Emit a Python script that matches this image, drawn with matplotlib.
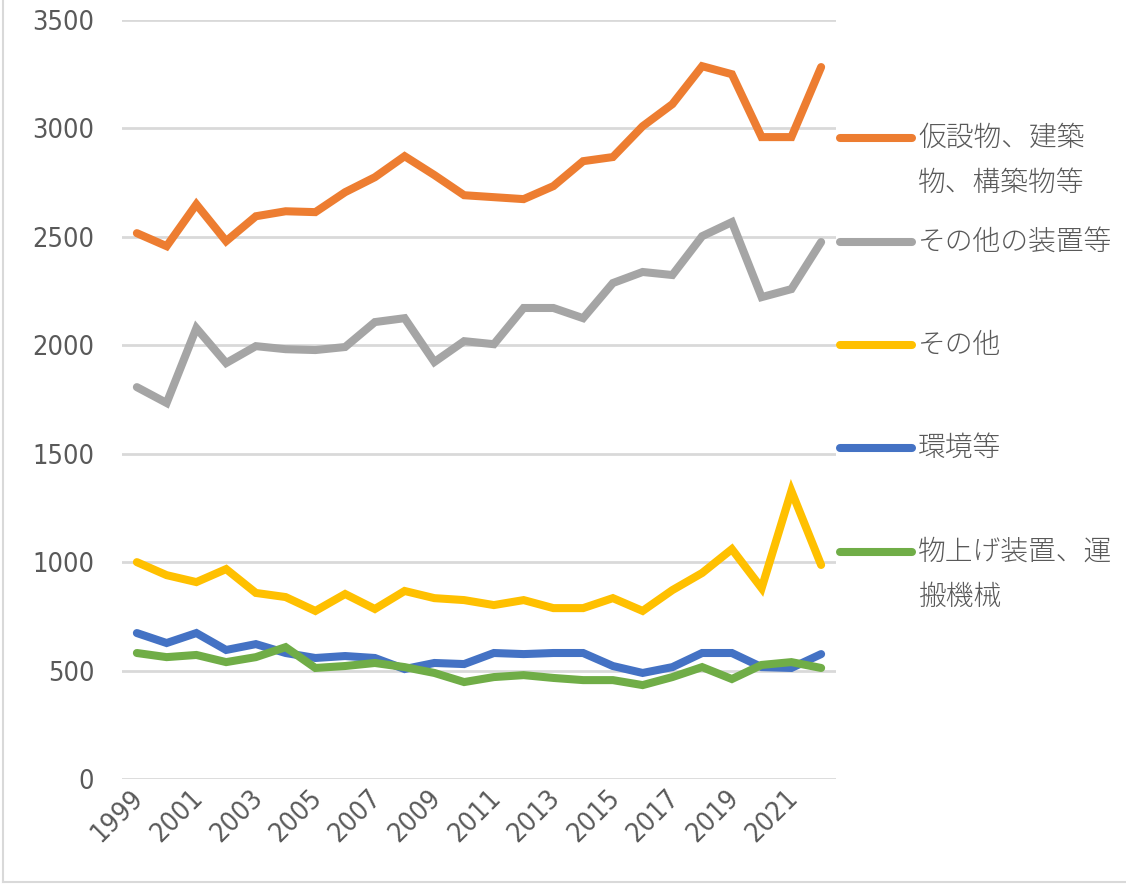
import matplotlib
matplotlib.use("Agg")
import matplotlib.pyplot as plt
from matplotlib import font_manager
from matplotlib.lines import Line2D
import matplotlib.transforms as mtransforms

years = list(range(1999, 2023))
series_names = ["仮設物、建築\n物、構築物等", "その他の装置等", "その他", "環境等", "物上げ装置、運\n搬機械"]
kasetsu = [2517, 2457, 2650, 2480, 2595, 2618, 2614, 2706, 2775, 2872, 2785, 2692,
           2683, 2674, 2734, 2849, 2868, 3010, 3112, 3287, 3250, 2960, 2960, 3283]
sonota_souchi = [1807, 1734, 2079, 1918, 1996, 1982, 1978, 1992, 2107, 2125, 1923, 2019,
                 2005, 2172, 2172, 2125, 2287, 2338, 2324, 2503, 2568, 2222, 2259, 2476]
sonota = [1000, 940, 908, 968, 858, 839, 775, 853, 784, 867, 834, 825,
          802, 825, 788, 788, 834, 775, 871, 950, 1060, 880, 1328, 987]
kankyo = [673, 627, 673, 595, 622, 581, 558, 567, 558, 507, 535, 530,
          581, 576, 581, 581, 521, 489, 516, 581, 581, 516, 512, 576]
monoage = [581, 562, 572, 539, 562, 608, 512, 521, 535, 516, 489, 447,
           470, 479, 466, 456, 456, 433, 470, 516, 461, 526, 539, 512]
y_ticks = [0, 500, 1000, 1500, 2000, 2500, 3000, 3500]
x_tick_years = years[::2]

colors = ["#ED7D31", "#A5A5A5", "#FFC000", "#4472C4", "#70AD47"]
values = [kasetsu, sonota_souchi, sonota, kankyo, monoage]

# narrow font for numbers if available
num_fp = None
for f in font_manager.fontManager.ttflist:
    if ("Narrow" in f.name or "Condensed" in f.fname) and not ("Bold" in f.fname or "Oblique" in f.fname or "Italic" in f.fname):
        num_fp = f.fname
        break

W, H = 1126, 885
fig = plt.figure(figsize=(W / 100, H / 100), dpi=100)
ax = fig.add_axes([122 / W, 1 - 779 / H, (836 - 122) / W, (779 - 20) / H])

for vals, c in zip(values, colors):
    ax.plot(years, vals, color=c, lw=5.8, solid_capstyle="round", solid_joinstyle="miter")

ax.set_xlim(1998.5, 2022.5)
ax.set_ylim(0, 3500)
ax.set_yticks(y_ticks)
ax.yaxis.grid(True, color="#D9D9D9", lw=2)
ax.set_axisbelow(True)
for s in ax.spines.values():
    s.set_visible(False)
ax.set_xticks(x_tick_years)
ax.tick_params(axis="both", length=0, colors="#595959")
ax.tick_params(axis="y", pad=20)
ax.tick_params(axis="x", pad=4)

if num_fp:
    fp = font_manager.FontProperties(fname=num_fp, size=19.5)
else:
    fp = font_manager.FontProperties(family="DejaVu Sans", size=15)
ax.set_yticklabels([str(v) for v in y_ticks], fontproperties=fp)
ax.set_xticklabels([str(v) for v in x_tick_years], fontproperties=fp, rotation=45,
                   ha="right", va="top")
offset = mtransforms.ScaledTranslation(12 / 100, 0, fig.dpi_scale_trans)
for lab in ax.get_xticklabels():
    lab.set_transform(lab.get_transform() + offset)

# legend (manual, Excel-style)
leg_y = [138, 242, 345, 448, 552]
for name, c, yy in zip(series_names, colors, leg_y):
    fy = 1 - yy / H
    fig.add_artist(Line2D([840 / W, 912 / W], [fy, fy], color=c, lw=5.8,
                          solid_capstyle="round", transform=fig.transFigure))
    for i, line in enumerate(name.split("\n")):
        fig.text(918 / W, 1 - (yy + 45 * i) / H, line, fontsize=20, color="#595959",
                 family=["Noto Sans CJK JP", "DejaVu Sans"], weight="light",
                 ha="left", va="center")

# chart frame
fig.add_artist(Line2D([3 / W, 3 / W], [3 / H, 1.0], color="#D9D9D9", lw=1.5, transform=fig.transFigure))
fig.add_artist(Line2D([3 / W, 1.0], [3 / H, 3 / H], color="#D9D9D9", lw=1.5, transform=fig.transFigure))

fig.savefig("out.png", dpi=100)
